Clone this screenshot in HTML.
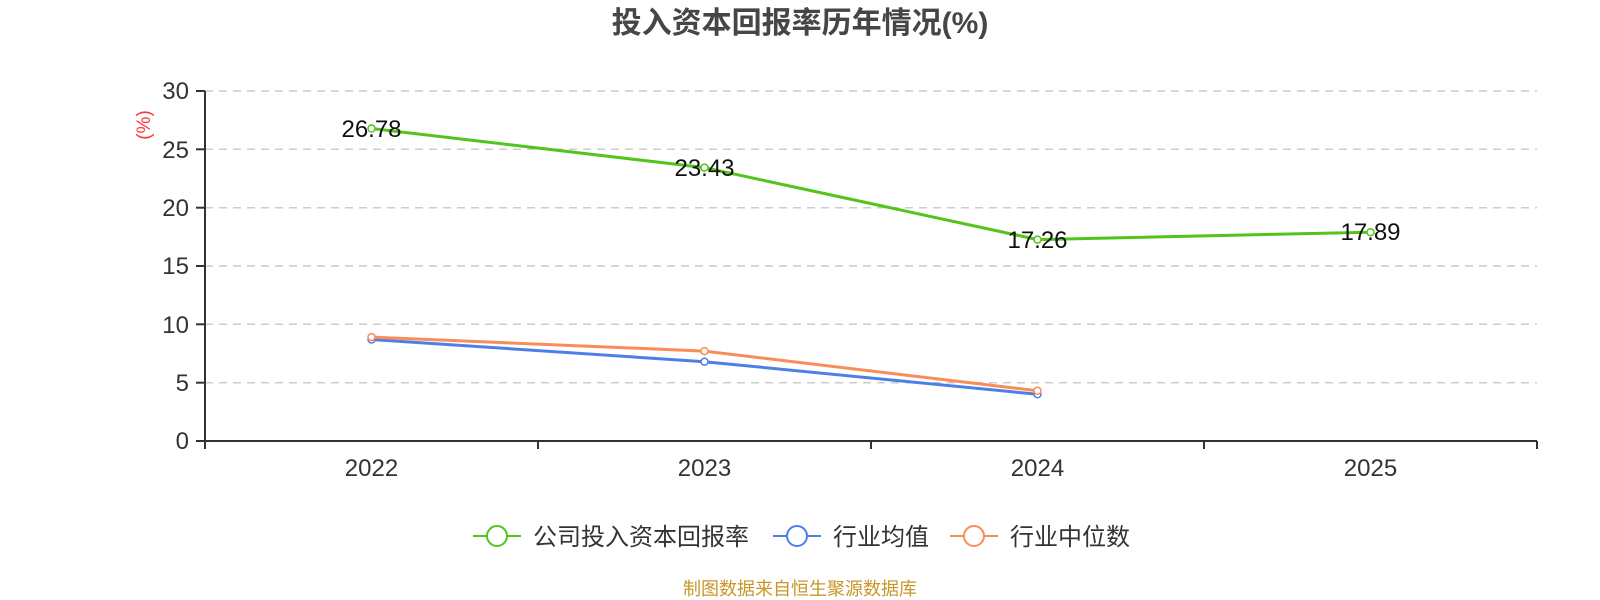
<!DOCTYPE html>
<html><head><meta charset="utf-8"><style>body{margin:0;background:#fff}svg{display:block}text{font-family:"Liberation Sans","Noto Sans CJK SC",sans-serif}</style></head><body>
<svg width="1600" height="600" viewBox="0 0 1600 600">
<text x="800" y="33" text-anchor="middle" font-size="30" font-weight="bold" fill="#464646">投入资本回报率历年情况(%)</text>
<g stroke="#ccc" stroke-width="1.5" stroke-dasharray="8,6">
<line x1="205" x2="1537" y1="91" y2="91"/><line x1="205" x2="1537" y1="149.3" y2="149.3"/><line x1="205" x2="1537" y1="207.7" y2="207.7"/><line x1="205" x2="1537" y1="266" y2="266"/><line x1="205" x2="1537" y1="324.3" y2="324.3"/><line x1="205" x2="1537" y1="382.7" y2="382.7"/>
</g>
<g stroke="#333" stroke-width="2">
<line x1="205" y1="91" x2="205" y2="441"/><line x1="205" y1="441" x2="1537" y2="441"/>
<line x1="196" x2="205" y1="91" y2="91"/><line x1="196" x2="205" y1="149.3" y2="149.3"/><line x1="196" x2="205" y1="207.7" y2="207.7"/><line x1="196" x2="205" y1="266" y2="266"/><line x1="196" x2="205" y1="324.3" y2="324.3"/><line x1="196" x2="205" y1="382.7" y2="382.7"/><line x1="196" x2="205" y1="441" y2="441"/>
<line x1="205" x2="205" y1="441" y2="449"/><line x1="538" x2="538" y1="441" y2="449"/><line x1="871" x2="871" y1="441" y2="449"/><line x1="1204" x2="1204" y1="441" y2="449"/><line x1="1537" x2="1537" y1="441" y2="449"/>
</g>
<g font-size="24" fill="#333" text-anchor="end">
<text x="189" y="99">30</text><text x="189" y="158">25</text><text x="189" y="216">20</text><text x="189" y="274">15</text><text x="189" y="333">10</text><text x="189" y="391">5</text><text x="189" y="449">0</text>
</g>
<text transform="translate(150,125) rotate(-90)" text-anchor="middle" font-size="19" fill="#f33">(%)</text>
<g font-size="24" fill="#333" text-anchor="middle">
<text x="371.5" y="476">2022</text><text x="704.5" y="476">2023</text><text x="1037.5" y="476">2024</text><text x="1370.5" y="476">2025</text>
</g>
<polyline points="371.5,339.5 704.5,361.7 1037.5,394.3" fill="none" stroke="#4e7fe6" stroke-width="3"/>
<polyline points="371.5,337.1 704.5,351.1 1037.5,390.8" fill="none" stroke="#fa8c5a" stroke-width="3"/>
<polyline points="371.5,128.5 704.5,167.6 1037.5,239.6 1370.5,232.2" fill="none" stroke="#52c41a" stroke-width="3"/>
<g fill="#fff" stroke-width="1.5">
<circle cx="371.5" cy="339.5" r="3.5" stroke="#4e7fe6"/><circle cx="704.5" cy="361.7" r="3.5" stroke="#4e7fe6"/><circle cx="1037.5" cy="394.3" r="3.5" stroke="#4e7fe6"/>
<circle cx="371.5" cy="337.1" r="3.5" stroke="#fa8c5a"/><circle cx="704.5" cy="351.1" r="3.5" stroke="#fa8c5a"/><circle cx="1037.5" cy="390.8" r="3.5" stroke="#fa8c5a"/>
<circle cx="371.5" cy="128.5" r="3.5" stroke="#52c41a"/><circle cx="704.5" cy="167.6" r="3.5" stroke="#52c41a"/><circle cx="1037.5" cy="239.6" r="3.5" stroke="#52c41a"/><circle cx="1370.5" cy="232.2" r="3.5" stroke="#52c41a"/>
</g>
<g font-size="24" fill="#111" text-anchor="middle">
<text x="371.5" y="137">26.78</text><text x="704.5" y="176">23.43</text><text x="1037.5" y="248">17.26</text><text x="1370.5" y="240">17.89</text>
</g>
<g stroke-width="2" fill="#fff">
<line x1="473" x2="521" y1="536" y2="536" stroke="#52c41a"/><circle cx="497" cy="536" r="10" stroke="#52c41a"/>
<line x1="773" x2="821" y1="536" y2="536" stroke="#4e7fe6"/><circle cx="797" cy="536" r="10" stroke="#4e7fe6"/>
<line x1="950" x2="998" y1="536" y2="536" stroke="#fa8c5a"/><circle cx="974" cy="536" r="10" stroke="#fa8c5a"/>
</g>
<g font-size="24" fill="#333">
<text x="533" y="545">公司投入资本回报率</text><text x="833" y="545">行业均值</text><text x="1010" y="545">行业中位数</text>
</g>
<text x="800" y="595" text-anchor="middle" font-size="18" fill="#c8962a">制图数据来自恒生聚源数据库</text>
</svg>
</body></html>
